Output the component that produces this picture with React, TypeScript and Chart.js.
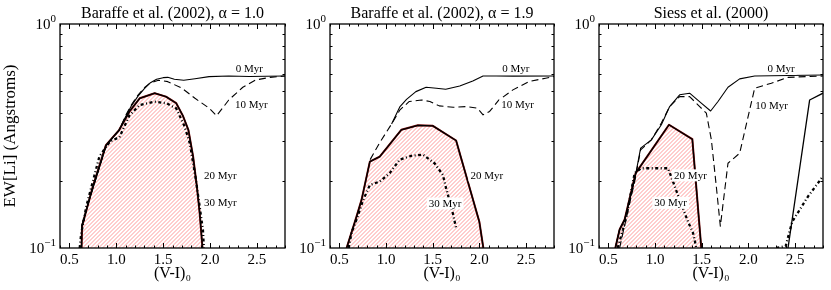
import React, { useEffect, useRef } from 'react';
import { Chart, registerables } from 'chart.js';

Chart.register(...registerables);

const SERIF = '"Liberation Serif", "DejaVu Serif", serif';

const panelTitles = ['Baraffe et al. (2002), α = 1.0', 'Baraffe et al. (2002), α = 1.9', 'Siess et al. (2000)'];
const xTicks = [0.5, 1.0, 1.5, 2.0, 2.5];
const yTicks = [0.1, 1];
const yTickExp = ['−1', '0'];
const ageLabels = ['0 Myr', '10 Myr', '20 Myr', '30 Myr'];

// ---- Panel 1: Baraffe et al. (2002), alpha = 1.0
const b10_age0_x = [0.63, 0.72, 0.80, 0.89, 0.96, 1.03, 1.10, 1.16, 1.23, 1.30, 1.36, 1.43, 1.50, 1.55, 1.62, 1.72, 1.84, 1.99, 2.20, 2.42, 2.60, 2.80];
const b10_age0_y = [0.125, 0.168, 0.215, 0.285, 0.31, 0.335, 0.385, 0.43, 0.475, 0.515, 0.545, 0.567, 0.576, 0.578, 0.567, 0.561, 0.570, 0.582, 0.586, 0.583, 0.584, 0.586];
const b10_age10_x = [0.63, 0.72, 0.80, 0.89, 0.96, 1.03, 1.10, 1.16, 1.23, 1.30, 1.36, 1.45, 1.55, 1.70, 1.84, 1.99, 2.07, 2.20, 2.35, 2.49, 2.64, 2.80];
const b10_age10_y = [0.125, 0.168, 0.215, 0.285, 0.31, 0.335, 0.39, 0.435, 0.48, 0.52, 0.545, 0.561, 0.553, 0.517, 0.466, 0.421, 0.389, 0.458, 0.522, 0.563, 0.578, 0.586];
const b10_age20_x = [0.63, 0.635, 0.75, 0.89, 1.03, 1.14, 1.25, 1.41, 1.53, 1.64, 1.71, 1.77, 1.82, 1.86, 1.89, 1.92];
const b10_age20_y = [0.1, 0.125, 0.188, 0.288, 0.336, 0.406, 0.466, 0.491, 0.474, 0.443, 0.39, 0.336, 0.256, 0.188, 0.143, 0.1];
const b10_age30_x = [0.61, 0.625, 0.68, 0.82, 0.93, 1.035, 1.14, 1.25, 1.41, 1.535, 1.64, 1.73, 1.785, 1.85, 1.89, 1.925, 1.935];
const b10_age30_y = [0.1, 0.115, 0.153, 0.256, 0.298, 0.313, 0.39, 0.435, 0.45, 0.443, 0.42, 0.348, 0.293, 0.201, 0.153, 0.12, 0.1];
const b10_label_x = [2.42, 2.44, 2.11, 2.11];
const b10_label_y = [0.63, 0.435, 0.211, 0.159];

// ---- Panel 2: Baraffe et al. (2002), alpha = 1.9
const b19_age0_x = [1.06, 1.15, 1.22, 1.32, 1.43, 1.54, 1.64, 1.79, 1.93, 2.04, 2.18, 2.36, 2.80];
const b19_age0_y = [0.358, 0.428, 0.461, 0.499, 0.522, 0.517, 0.511, 0.529, 0.557, 0.586, 0.586, 0.585, 0.586];
const b19_age10_x = [0.83, 0.93, 1.06, 1.15, 1.25, 1.38, 1.47, 1.57, 1.72, 1.86, 1.98, 2.04, 2.11, 2.21, 2.36, 2.53, 2.71, 2.80];
const b19_age10_y = [0.248, 0.294, 0.358, 0.414, 0.451, 0.458, 0.451, 0.431, 0.425, 0.428, 0.421, 0.393, 0.407, 0.458, 0.508, 0.553, 0.573, 0.582];
const b19_age20_x = [0.578, 0.684, 0.738, 0.827, 0.933, 1.164, 1.342, 1.502, 1.751, 2.0, 2.043];
const b19_age20_y = [0.1, 0.138, 0.164, 0.243, 0.256, 0.337, 0.353, 0.351, 0.302, 0.131, 0.1];
const b19_age30_x = [0.60, 0.631, 0.684, 0.756, 0.827, 0.933, 1.04, 1.147, 1.271, 1.396, 1.52, 1.609, 1.644, 1.716, 1.751];
const b19_age30_y = [0.1, 0.117, 0.134, 0.164, 0.191, 0.198, 0.216, 0.248, 0.258, 0.261, 0.239, 0.212, 0.185, 0.143, 0.123];
const b19_label_x = [2.39, 2.41, 2.08, 1.634];
const b19_label_y = [0.63, 0.435, 0.211, 0.158];

// ---- Panel 3: Siess et al. (2000)
const s00_age0_x = [0.575, 0.621, 0.675, 0.782, 0.846, 0.961, 1.068, 1.157, 1.264, 1.371, 1.496, 1.596, 1.675, 1.782, 1.907, 2.068, 2.80];
const s00_age0_y = [0.1, 0.121, 0.134, 0.202, 0.279, 0.304, 0.355, 0.428, 0.483, 0.491, 0.443, 0.409, 0.451, 0.522, 0.569, 0.586, 0.592];
const s00_age10_x = [0.621, 0.657, 0.782, 0.846, 0.961, 1.068, 1.157, 1.264, 1.371, 1.479, 1.55, 1.604, 1.657, 1.70, 1.782, 1.907, 2.068, 2.246, 2.425, 2.80];
const s00_age10_y = [0.1, 0.117, 0.198, 0.274, 0.304, 0.361, 0.428, 0.474, 0.474, 0.428, 0.40, 0.304, 0.188, 0.125, 0.239, 0.265, 0.517, 0.544, 0.578, 0.586];
const s00_age20a_x = [0.575, 0.621, 0.675, 0.793, 1.15, 1.40, 1.496];
const s00_age20a_y = [0.1, 0.121, 0.134, 0.216, 0.355, 0.306, 0.1];
const s00_age20b_x = [2.425, 2.657, 2.80];
const s00_age20b_y = [0.1, 0.458, 0.491];
const s00_age30a_x = [0.60, 0.657, 0.693, 0.782, 0.854, 1.139, 1.193, 1.264, 1.354, 1.407, 1.443];
const s00_age30a_y = [0.1, 0.121, 0.138, 0.216, 0.227, 0.227, 0.198, 0.164, 0.131, 0.117, 0.1];
const s00_age30b_x = [2.30, 2.40, 2.47, 2.64, 2.80];
const s00_age30b_y = [0.1, 0.102, 0.131, 0.170, 0.209];
const s00_label_x = [2.35, 2.25, 1.38, 1.168];
const s00_label_y = [0.63, 0.433, 0.211, 0.159];

type P = { x: number; y: number | null };
const pts = (xs: number[], ys: number[]): P[] => xs.map((x, i) => ({ x, y: ys[i] }));
const gap = (a: P[], b: P[]): P[] => [...a, { x: (a[a.length - 1].x + b[0].x) / 2, y: null }, ...b];
const toBase = (p: P[]): P[] => [{ x: p[0].x, y: 0.1 }, ...p, { x: p[p.length - 1].x, y: 0.1 }];

type Panel = {
  title: string;
  age0: P[];
  age10: P[];
  age20: P[];
  age20poly: P[];
  age30: P[];
  labelX: number[];
  labelY: number[];
  left: number;
  width: number;
  yW: number;
  padR: number;
  yTitle: boolean;
};

const panels: Panel[] = [
  {
    title: panelTitles[0],
    age0: pts(b10_age0_x, b10_age0_y),
    age10: pts(b10_age10_x, b10_age10_y),
    age20: pts(b10_age20_x, b10_age20_y),
    age20poly: toBase(pts(b10_age20_x, b10_age20_y)),
    age30: pts(b10_age30_x, b10_age30_y),
    labelX: b10_label_x,
    labelY: b10_label_y,
    left: 0, width: 290, yW: 60, padR: 5, yTitle: true,
  },
  {
    title: panelTitles[1],
    age0: pts(b19_age0_x, b19_age0_y),
    age10: pts(b19_age10_x, b19_age10_y),
    age20: pts(b19_age20_x, b19_age20_y),
    age20poly: toBase(pts(b19_age20_x, b19_age20_y)),
    age30: pts(b19_age30_x, b19_age30_y),
    labelX: b19_label_x,
    labelY: b19_label_y,
    left: 290, width: 270, yW: 40, padR: 6, yTitle: false,
  },
  {
    title: panelTitles[2],
    age0: pts(s00_age0_x, s00_age0_y),
    age10: pts(s00_age10_x, s00_age10_y),
    age20: gap(pts(s00_age20a_x, s00_age20a_y), pts(s00_age20b_x, s00_age20b_y)),
    age20poly: toBase(pts(s00_age20a_x, s00_age20a_y)),
    age30: gap(pts(s00_age30a_x, s00_age30a_y), pts(s00_age30b_x, s00_age30b_y)),
    labelX: s00_label_x,
    labelY: s00_label_y,
    left: 560, width: 271, yW: 39, padR: 8, yTitle: false,
  },
];

const POLY_INDEX = 4;

const framePlugin = {
  id: 'frameTicks',
  beforeDatasetsDraw(chart: any) {
    // red hatching inside the 20 Myr polygon (vertices come from Chart.js scales)
    const { ctx, chartArea: a } = chart;
    const meta = chart.getDatasetMeta(POLY_INDEX);
    const els = meta.data as any[];
    if (!els.length) return;
    ctx.save();
    ctx.beginPath();
    els.forEach((el, i) => (i ? ctx.lineTo(el.x, el.y) : ctx.moveTo(el.x, el.y)));
    ctx.closePath();
    ctx.clip();
    ctx.strokeStyle = '#ff7f7f';
    ctx.globalAlpha = 0.8;
    ctx.lineWidth = 1;
    ctx.setLineDash([]);
    const h = a.bottom - a.top;
    for (let x0 = a.left - h - 8; x0 < a.right + 8; x0 += 4) {
      ctx.beginPath();
      ctx.moveTo(x0 + 0.5, a.bottom + 2);
      ctx.lineTo(x0 + 0.5 + h + 4, a.top - 2);
      ctx.stroke();
    }
    ctx.restore();
  },
  afterDatasetsDraw(chart: any, _args: any, opts: any) {
    const { ctx, chartArea: a } = chart;
    const xs = chart.scales.x;
    const ys = chart.scales.y;
    ctx.save();
    // age labels with white boxes
    const lx: number[] = opts.labelX || [];
    const ly: number[] = opts.labelY || [];
    ctx.font = `11px ${SERIF}`;
    ctx.textAlign = 'center';
    ctx.textBaseline = 'middle';
    ageLabels.forEach((t, i) => {
      const px = xs.getPixelForValue(lx[i]);
      const py = ys.getPixelForValue(ly[i]);
      const w = ctx.measureText(t).width;
      ctx.fillStyle = '#ffffff';
      ctx.fillRect(px - w / 2 - 2, py - 6, w + 4, 12);
      ctx.fillStyle = '#000000';
      ctx.fillText(t, px, py + 0.5);
    });
    // inward ticks
    ctx.strokeStyle = '#000';
    ctx.lineWidth = 1;
    ctx.beginPath();
    for (let k = 4; k <= 28; k++) {
      const v = k / 10;
      const major = xTicks.some((t) => Math.abs(t - v) < 1e-6);
      const len = major ? 5 : 2.5;
      const px = Math.round(xs.getPixelForValue(v)) + 0.5;
      ctx.moveTo(px, a.bottom);
      ctx.lineTo(px, a.bottom - len);
      ctx.moveTo(px, a.top);
      ctx.lineTo(px, a.top + len);
    }
    for (let k = 2; k <= 9; k++) {
      const v = k / 10;
      const py = Math.round(ys.getPixelForValue(v)) + 0.5;
      ctx.moveTo(a.left, py);
      ctx.lineTo(a.left + 2.5, py);
      ctx.moveTo(a.right, py);
      ctx.lineTo(a.right - 2.5, py);
    }
    ctx.stroke();
    // frame
    ctx.lineWidth = 1.3;
    ctx.strokeRect(a.left, a.top, a.right - a.left, a.bottom - a.top);
    ctx.restore();
  },
  afterDraw(chart: any, _args: any, opts: any) {
    const { ctx, chartArea: a } = chart;
    const ys = chart.scales.y;
    ctx.save();
    ctx.fillStyle = '#000';
    ctx.textBaseline = 'alphabetic';
    // panel title, centred over the plot area
    ctx.font = `16px ${SERIF}`;
    ctx.textAlign = 'center';
    ctx.fillText(opts.title || '', (a.left + a.right) / 2, 17.5);
    // y tick labels: 10 with superscript exponent
    yTicks.forEach((v, i) => {
      const py = ys.getPixelForValue(v);
      ctx.font = `11px ${SERIF}`;
      const ew = ctx.measureText(yTickExp[i]).width;
      ctx.font = `15px ${SERIF}`;
      const bw = ctx.measureText('10').width;
      const right = a.left - 4;
      ctx.textAlign = 'left';
      ctx.fillText('10', right - ew - bw, py + 5);
      ctx.font = `11px ${SERIF}`;
      ctx.fillText(yTickExp[i], right - ew, py - 2);
    });
    ctx.restore();
  },
};

function PanelChart({ p }: { p: Panel }) {
  const ref = useRef<HTMLCanvasElement | null>(null);
  useEffect(() => {
    if (!ref.current) return;
    const line = (data: P[], extra: any) => ({
      data,
      pointRadius: 0,
      tension: 0,
      fill: false,
      borderColor: '#000',
      backgroundColor: 'transparent',
      borderWidth: 1,
      borderJoinStyle: 'round',
      spanGaps: false,
      ...extra,
    });
    const chart = new Chart(ref.current, {
      type: 'line',
      data: {
        datasets: [
          line(p.age0, { order: 1, borderWidth: 1.1 }),
          line(p.age10, { order: 2, borderWidth: 1.1, borderDash: [7, 4] }),
          line(p.age20, { order: 3, borderWidth: 1.3 }),
          line(p.age30, { order: 4, borderWidth: 2.3, borderDash: [3, 2.5, 1, 2.5], borderCapStyle: 'butt' }),
          line(p.age20poly, { order: 5, borderWidth: 2, borderColor: '#7a0a0a' }),
        ],
      },
      options: {
        animation: false,
        responsive: false,
        devicePixelRatio: 1,
        events: [],
        layout: { padding: { left: 0, right: p.padR, top: 24, bottom: 0 } },
        plugins: {
          legend: { display: false },
          tooltip: { enabled: false },
          title: { display: false },
          frameTicks: { labelX: p.labelX, labelY: p.labelY, title: p.title },
        } as any,
        scales: {
          x: {
            type: 'linear',
            min: 0.4,
            max: 2.8,
            grid: { display: false, drawTicks: false },
            border: { display: false },
            afterBuildTicks: (s: any) => {
              s.ticks = xTicks.map((v) => ({ value: v }));
            },
            afterFit: (s: any) => {
              s.height = 42;
            },
            ticks: {
              autoSkip: false,
              maxRotation: 0,
              color: '#000',
              padding: 3,
              font: { family: SERIF, size: 15 },
              callback: (v: any) => Number(v).toFixed(1),
            },
            title: {
              display: true,
              text: '(V-I)₀',
              color: '#000',
              font: { family: SERIF, size: 16 },
              padding: { top: 0, bottom: 7 },
            },
          },
          y: {
            type: 'logarithmic',
            min: 0.1,
            max: 1,
            grid: { display: false, drawTicks: false },
            border: { display: false },
            afterBuildTicks: (s: any) => {
              s.ticks = yTicks.map((v) => ({ value: v, major: true }));
            },
            afterFit: (s: any) => {
              s.width = p.yW;
            },
            ticks: {
              display: false,
            },
            title: {
              display: p.yTitle,
              text: 'EW[Li] (Angstroms)',
              color: '#000',
              font: { family: SERIF, size: 17 },
              padding: { top: 0, bottom: 0 },
            },
          },
        },
      } as any,
      plugins: [framePlugin],
    });
    return () => chart.destroy();
  }, [p]);
  return (
    <canvas
      ref={ref}
      width={p.width}
      height={290}
      style={{ position: 'absolute', left: p.left, top: 0, width: p.width, height: 290 }}
    />
  );
}

export default function App() {
  return (
    <div style={{ position: 'absolute', left: 0, top: 0, width: 831, height: 290, background: '#fff', overflow: 'hidden' }}>
      {panels.map((p, i) => (
        <PanelChart key={i} p={p} />
      ))}
    </div>
  );
}
